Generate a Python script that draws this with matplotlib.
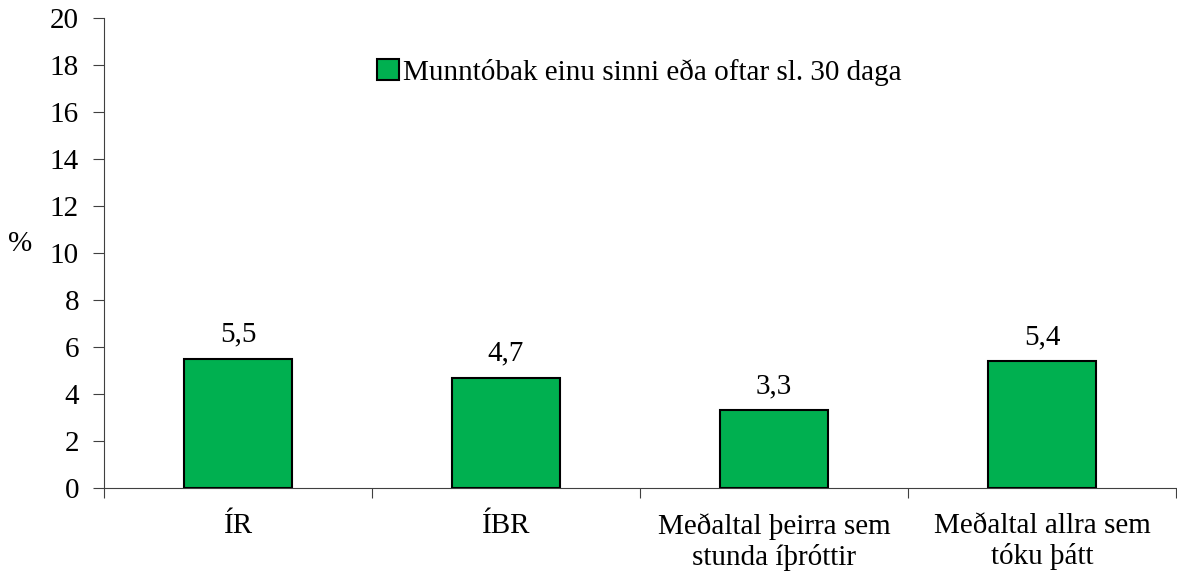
import matplotlib
matplotlib.use("Agg")
import matplotlib.pyplot as plt
import numpy as np

categories = ["ÍR", "ÍBR", "Meðaltal þeirra sem\nstunda íþróttir", "Meðaltal allra sem\ntóku þátt"]
values = [5.5, 4.7, 3.3, 5.4]
value_labels = ["5,5", "4,7", "3,3", "5,4"]
series_name = "Munntóbak einu sinni eða oftar sl. 30 daga"
yticks = [0, 2, 4, 6, 8, 10, 12, 14, 16, 18, 20]

plt.rcParams['font.family'] = ['Liberation Serif', 'DejaVu Serif']
FS = 21

fig = plt.figure(figsize=(11.77, 5.75), dpi=100)
ax = fig.add_axes([104/1177, 1 - 488/575, (1176-104)/1177, (488-18)/575])

x = np.arange(len(categories))
bars = ax.bar(x, values, width=0.40, color="#00B050", edgecolor="black", linewidth=1.5,
              label=series_name, zorder=3)
for xi, v, lab in zip(x, values, value_labels):
    ax.annotate(lab, (xi, v), xytext=(0, 8), textcoords="offset points",
                ha="center", va="bottom", fontsize=FS)

ax.set_xlim(-0.5, 3.5)
ax.set_ylim(0, 20)
ax.set_yticks(yticks)
ax.set_yticklabels([str(t) for t in yticks], fontsize=FS)

ax.set_xticks(np.arange(-0.5, 4.0, 1.0))
ax.set_xticklabels([])
ax.set_xticks(x, minor=True)
ax.set_xticklabels(categories, minor=True, fontsize=FS, linespacing=1.2)
ax.tick_params(axis="x", which="minor", length=0, pad=18)
ax.tick_params(axis="x", which="major", length=7, direction="out", color="#404040")
ax.tick_params(axis="y", length=8, direction="out", pad=10, color="#404040")

for s in ["top", "right"]:
    ax.spines[s].set_visible(False)
ax.spines["left"].set_color("#404040")
ax.spines["bottom"].set_color("#404040")

ax.set_ylabel("%", rotation=0, fontsize=FS, va="center")
ax.yaxis.set_label_coords(-0.078, 0.52)

leg = ax.legend(loc="center left", bbox_to_anchor=((377-104)/(1176-104), (488-72)/(488-18)),
                frameon=False, fontsize=FS, handlelength=0.75, handleheight=0.75,
                handletextpad=0.15, borderaxespad=0, borderpad=0)

fig.savefig("out.png", dpi=100)
